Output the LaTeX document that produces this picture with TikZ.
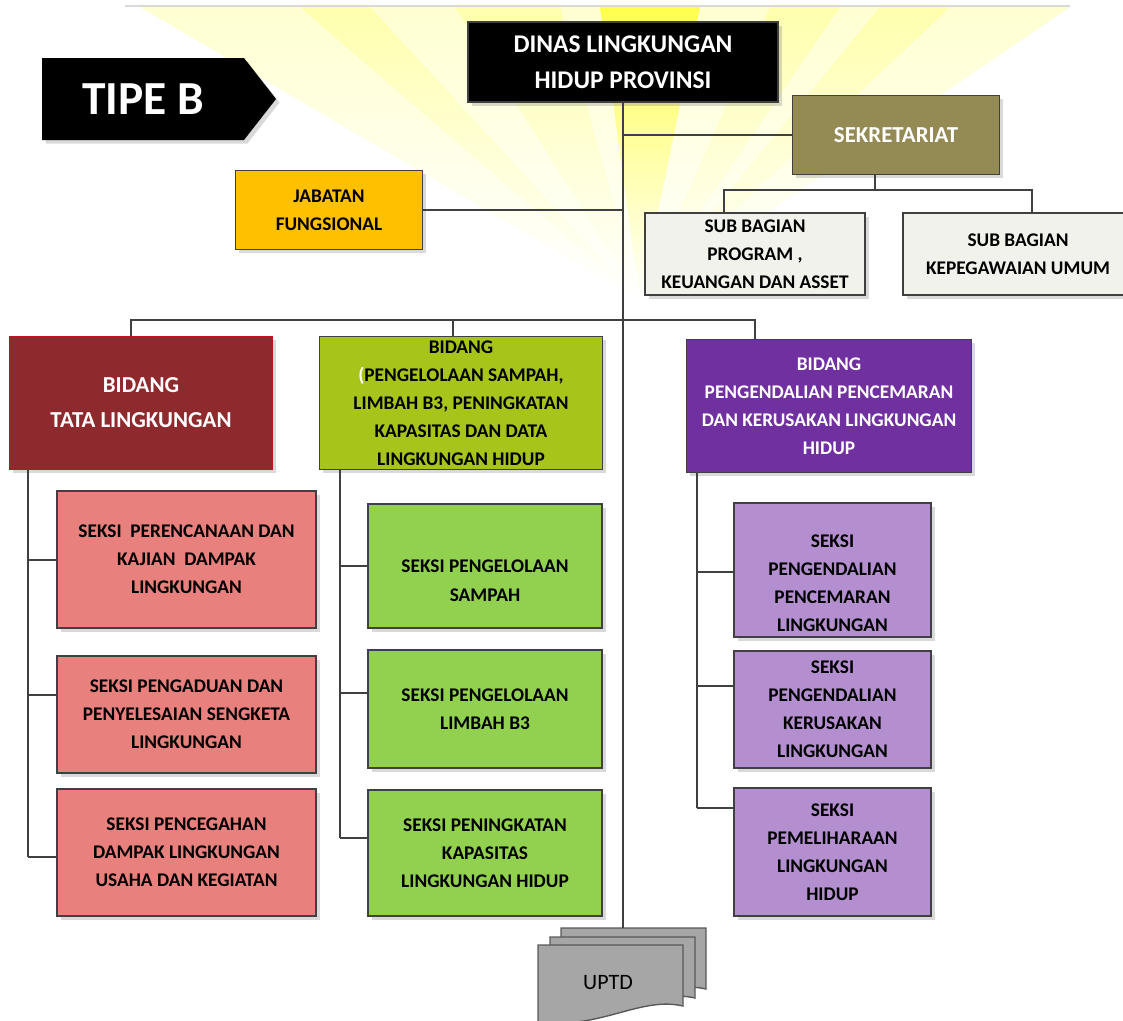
\documentclass[tikz,border=0pt]{standalone}
\usepackage{fontspec}
\setmainfont{Carlito}
\usetikzlibrary{shapes.symbols,shadows}

\definecolor{sekreOlive}{HTML}{948A54}
\definecolor{jabGold}{HTML}{FFC000}
\definecolor{subGray}{HTML}{F2F2EC}
\definecolor{tataRed}{HTML}{8E2A2D}
\definecolor{tataBorder}{HTML}{C0141C}
\definecolor{sampahGreen}{HTML}{A7C41A}
\definecolor{pencemaranPurple}{HTML}{7030A0}
\definecolor{seksiRed}{HTML}{E8817E}
\definecolor{seksiGreen}{HTML}{92D050}
\definecolor{seksiPurple}{HTML}{B48FD0}
\definecolor{uptdGray}{HTML}{A6A6A6}

\tikzset{
  orgbox/.style={draw=black!75, line width=0.7pt, align=center, inner sep=2pt,
    font=\fontsize{11}{16}\selectfont\bfseries,
    drop shadow={shadow xshift=2pt, shadow yshift=-2pt, opacity=0.3}},
  boxsize/.style 2 args={minimum width=#1*0.02cm, minimum height=#2*0.02cm},
  link/.style={draw=black!75, line width=1pt},
  uptdpage/.style={draw=black!65, fill=uptdGray, line width=0.8pt},
}

\begin{document}
\begin{tikzpicture}[x=0.02cm, y=-0.02cm]
    \useasboundingbox (0,0) rectangle (1123,1021);
    % sun glow and rays behind the chart
    \coordinate (sun) at (640,300);
    \shade[top color=yellow!18, bottom color=white] (sun) -- (140,7) -- (1070,7) -- cycle;
    \foreach \a/\b in {300/370, 455/560, 770/840, 880/950}
        \shade[top color=yellow!32, bottom color=white] (sun) -- (\a,7) -- (\b,7) -- cycle;
    \shade[top color=yellow!70, bottom color=white] (sun) -- (600,7) -- (700,7) -- cycle;
    \draw[black!15, line width=0.6pt] (125,6) -- (1070,6);

    % top level
    \node[signal, signal to=east, signal pointer angle=104, fill=black, text=white,
          boxsize={234}{82}, font=\fontsize{27}{30}\selectfont\bfseries,
          drop shadow={shadow xshift=2pt, shadow yshift=-2pt, opacity=0.3}] (tipe) at (143,99) {TIPE B};
    \node[orgbox, fill=black, text=white, boxsize={310}{80},
          font=\fontsize{14.5}{20.5}\selectfont\bfseries] (dinas) at (623,62) {DINAS LINGKUNGAN\\HIDUP PROVINSI};
    \node[orgbox, fill=sekreOlive, text=white, boxsize={207}{79},
          font=\fontsize{13}{16}\selectfont\bfseries] (sekre) at (896,135) {SEKRETARIAT};
    \node[orgbox, fill=jabGold, boxsize={187}{79}] (jab) at (329,210) {JABATAN\\FUNGSIONAL};
    \node[orgbox, fill=subGray, boxsize={220}{82}] (subprog) at (755,254) {SUB BAGIAN\\PROGRAM ,\\KEUANGAN DAN ASSET};
    \node[orgbox, fill=subGray, boxsize={230}{82}] (subpeg) at (1018,254) {SUB BAGIAN\\KEPEGAWAIAN UMUM};

    % bidang
    \node[orgbox, draw=tataBorder, fill=tataRed, text=white, boxsize={263}{133},
          font=\fontsize{13}{20}\selectfont\bfseries] (bidtata) at (141,403) {BIDANG\\TATA LINGKUNGAN};
    \node[orgbox, fill=sampahGreen, boxsize={283}{132}] (bidsampah) at (461,403)
          {BIDANG\\\textcolor{white}{(}PENGELOLAAN SAMPAH,\\LIMBAH B3, PENINGKATAN\\KAPASITAS DAN DATA\\LINGKUNGAN HIDUP};
    \node[orgbox, fill=pencemaranPurple, text=white, boxsize={285}{133}] (bidpen) at (829,406)
          {BIDANG\\PENGENDALIAN PENCEMARAN\\DAN KERUSAKAN LINGKUNGAN\\HIDUP};

    % seksi, tata lingkungan
    \node[orgbox, fill=seksiRed, boxsize={259}{137}] (ts1) at (186.5,559.5) {SEKSI~ PERENCANAAN DAN\\KAJIAN~ DAMPAK\\LINGKUNGAN};
    \node[orgbox, fill=seksiRed, boxsize={259}{117}] (ts2) at (186.5,714.5) {SEKSI PENGADUAN DAN\\PENYELESAIAN SENGKETA\\LINGKUNGAN};
    \node[orgbox, fill=seksiRed, boxsize={259}{127}] (ts3) at (186.5,852.5) {SEKSI PENCEGAHAN\\DAMPAK LINGKUNGAN\\USAHA DAN KEGIATAN};

    % seksi, sampah (first text sits low, pushed down by a strut)
    \node[orgbox, fill=seksiGreen, boxsize={234}{124}] (gs1) at (485,566) {\rule{0pt}{24pt}SEKSI PENGELOLAAN\\SAMPAH};
    \node[orgbox, fill=seksiGreen, boxsize={234}{118}] (gs2) at (485,709) {SEKSI PENGELOLAAN\\LIMBAH B3};
    \node[orgbox, fill=seksiGreen, boxsize={234}{126}] (gs3) at (485,853) {SEKSI PENINGKATAN\\KAPASITAS\\LINGKUNGAN HIDUP};

    % seksi, pencemaran
    \node[orgbox, fill=seksiPurple, boxsize={197}{134}] (ps1) at (832.5,570) {\rule{0pt}{22pt}SEKSI\\PENGENDALIAN\\PENCEMARAN\\LINGKUNGAN};
    \node[orgbox, fill=seksiPurple, boxsize={197}{117}] (ps2) at (832.5,709.5) {SEKSI\\PENGENDALIAN\\KERUSAKAN\\LINGKUNGAN};
    \node[orgbox, fill=seksiPurple, boxsize={197}{128}] (ps3) at (832.5,852) {SEKSI\\PEMELIHARAAN\\LINGKUNGAN\\HIDUP};

    % uptd, three stacked pages
    \foreach \dx/\dy in {23/17, 12/8, 0/0}
        \draw[uptdpage] (538+\dx,945-\dy) -- (683+\dx,945-\dy) -- (683+\dx,1006-\dy)
            .. controls (640+\dx,996-\dy) and (600+\dx,1030-\dy) .. (538+\dx,1022-\dy) -- cycle;
    \node[font=\fontsize{12.5}{15}\selectfont] (uptd) at (608,983) {UPTD};
    \coordinate (uptdtop) at (622,928);

    % connectors
    \coordinate (sbL) at (724,190);
    \coordinate (sbM) at (875,190);
    \coordinate (sbR) at (1032,190);
    \coordinate (busL) at (131,320);
    \coordinate (busM) at (453,320);
    \coordinate (busR) at (755,320);
    \coordinate (tsp) at (28,0);
    \coordinate (gsp) at (340,0);
    \coordinate (psp) at (697,0);

    \draw[link] (dinas.south) -- (dinas.south |- uptdtop);
    \draw[link] (dinas.south |- sekre.west) -- (sekre.west);
    \draw[link] (jab.east) -- (dinas.south |- jab.east);
    \draw[link] (sekre.south -| sbM) -- (sbM);
    \draw[link] (subprog.north -| sbL) |- (sbR) -- (subpeg.north -| sbR);
    \draw[link] (bidtata.north -| busL) |- (busR) -- (bidpen.north -| busR);
    \draw[link] (bidsampah.north -| busM) -- (busM);

    \draw[link] (bidtata.south -| tsp) -- (tsp |- 0,857);
    \foreach \n/\y in {ts1/560, ts2/695, ts3/857}
        \draw[link] (tsp |- 0,\y) -- (\n.west |- 0,\y);
    \draw[link] (bidsampah.south -| gsp) -- (gsp |- 0,838);
    \foreach \n/\y in {gs1/566, gs2/693, gs3/838}
        \draw[link] (gsp |- 0,\y) -- (\n.west |- 0,\y);
    \draw[link] (bidpen.south -| psp) -- (psp |- 0,808);
    \foreach \n/\y in {ps1/572, ps2/686, ps3/808}
        \draw[link] (psp |- 0,\y) -- (\n.west |- 0,\y);
\end{tikzpicture}
\end{document}
